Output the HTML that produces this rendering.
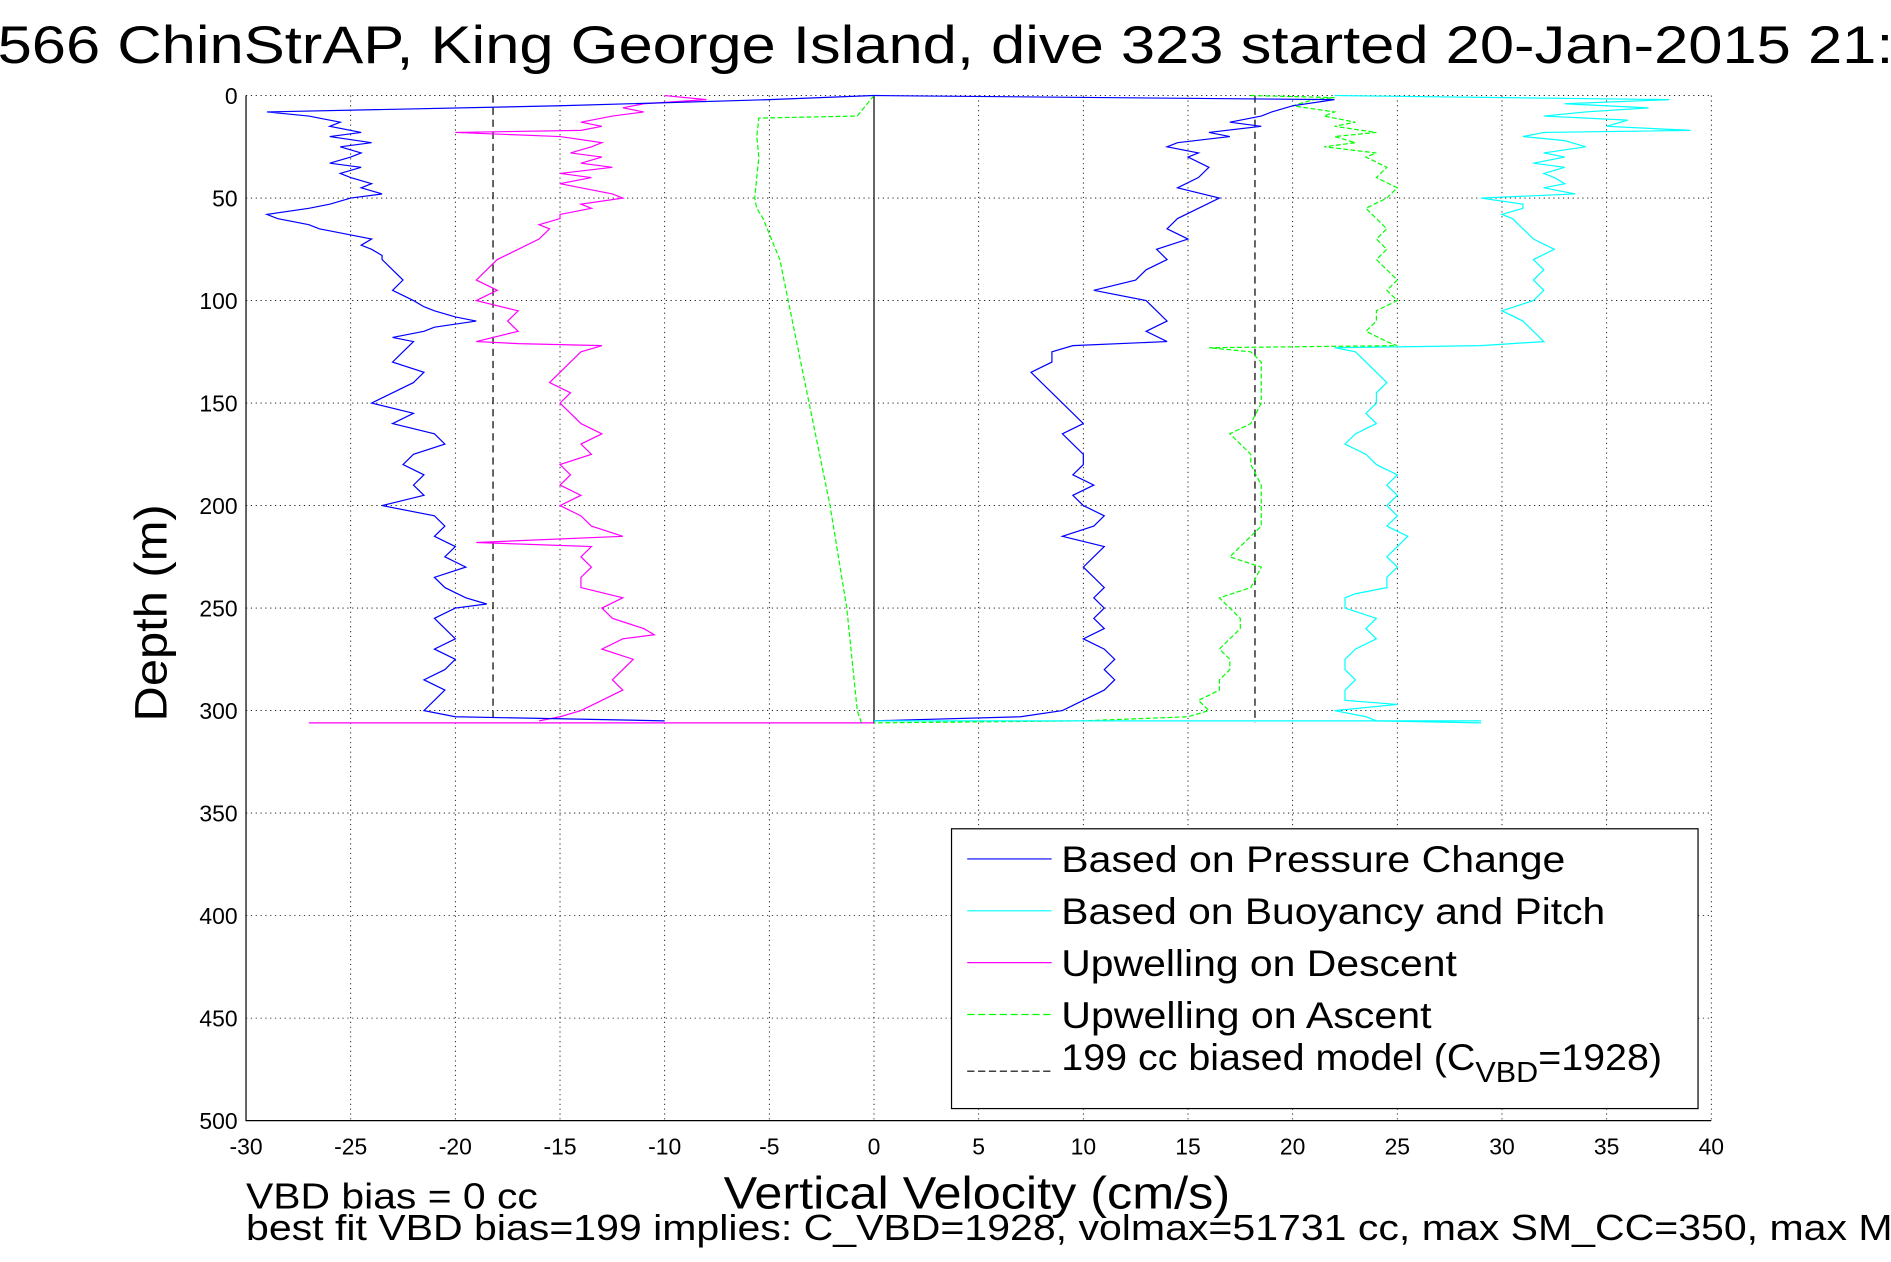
<!DOCTYPE html>
<html><head><meta charset="utf-8"><style>
html,body{margin:0;padding:0;background:#fff;overflow:hidden;}
svg{display:block;font-family:"Liberation Sans",sans-serif;}
</style></head><body>
<svg id="chart" width="1891" height="1262" viewBox="0 0 1568 1046" xmlns="http://www.w3.org/2000/svg">
<text x="-2" y="52" font-size="44" textLength="1572" lengthAdjust="spacingAndGlyphs">566 ChinStrAP, King George Island, dive 323 started 20-Jan-2015 21:</text>
<g id="grid"></g>
<g id="axes"></g>
<g id="series"></g>
<text transform="translate(138,508) rotate(-90)" text-anchor="middle" font-size="38" textLength="180" lengthAdjust="spacingAndGlyphs">Depth (m)</text>
<text x="600" y="1002" font-size="38" textLength="420" lengthAdjust="spacingAndGlyphs">Vertical Velocity (cm/s)</text>
<text x="204" y="1002" font-size="30" textLength="242" lengthAdjust="spacingAndGlyphs">VBD bias = 0 cc</text>
<text x="204" y="1028" font-size="30" textLength="1388" lengthAdjust="spacingAndGlyphs">best fit VBD bias=199 implies: C_VBD=1928, volmax=51731 cc, max SM_CC=350, max MA</text>
<g id="legend">
<rect x="789" y="687" width="619" height="232" fill="#fff" stroke="#000" stroke-width="1"/>
<line x1="802" y1="712" x2="872" y2="712" stroke="#0000ff"/>
<text x="880" y="723" font-size="31" textLength="418" lengthAdjust="spacingAndGlyphs">Based on Pressure Change</text>
<line x1="802" y1="755" x2="872" y2="755" stroke="#00ffff"/>
<text x="880" y="766" font-size="31" textLength="451" lengthAdjust="spacingAndGlyphs">Based on Buoyancy and Pitch</text>
<line x1="802" y1="798" x2="872" y2="798" stroke="#ff00ff"/>
<text x="880" y="809" font-size="31" textLength="328" lengthAdjust="spacingAndGlyphs">Upwelling on Descent</text>
<line x1="802" y1="841" x2="872" y2="841" stroke="#00ff00" stroke-dasharray="6,3"/>
<text x="880" y="852" font-size="31" textLength="307" lengthAdjust="spacingAndGlyphs">Upwelling on Ascent</text>
<line x1="802" y1="888" x2="872" y2="888" stroke="#000" stroke-dasharray="6,3"/>
<text x="880" y="887" font-size="31" transform="translate(880,0) scale(1.055,1) translate(-880,0)">199 cc biased model (C<tspan font-size="24" dy="10">VBD</tspan><tspan dy="-10">=1928)</tspan></text>
</g>
</svg>
<script>
const xTicks=[-30,-25,-20,-15,-10,-5,0,5,10,15,20,25,30,35,40];
const yTicks=[0,50,100,150,200,250,300,350,400,450,500];
const blueDescDepth=[0,2,5,8,10,13,15,18,20,23,25,28,30,33,35,38,40,43,45,48,50,53,55,58,60,63,65,68,70,73,75,78,80,85,90,95,100,103,105,108,110,113,115,118,120,125,130,135,140,145,150,155,160,165,170,175,180,185,190,195,200,205,210,215,220,225,230,235,240,245,248,250,255,260,265,270,275,280,285,290,295,300,303,305];
const blueDescVal=[0,-5,-15,-29,-27,-25.5,-26,-24.5,-26,-24,-25.5,-24.5,-25,-26,-24.5,-25.5,-25,-24,-24.5,-23.5,-25,-26,-27,-29,-28.5,-27,-26.5,-25,-24,-24.5,-24,-23.5,-23.5,-23,-22.5,-23,-22,-21.5,-21,-20,-19,-21,-21.5,-23,-22,-22.5,-23,-21.5,-22,-23,-24,-22,-23,-21,-20.5,-22,-22.5,-21.5,-22,-21.5,-23.5,-21,-20.5,-21,-20,-20.5,-19.5,-21,-20.5,-19.5,-18.5,-20,-21,-20.5,-20,-21,-20,-20.5,-21.5,-20.5,-21,-21.5,-20,-10];
const blueAscDepth=[0,2,5,8,10,13,15,18,20,23,25,28,30,35,40,45,50,55,60,65,70,75,80,85,90,95,100,105,110,115,120,122,125,130,135,140,145,150,155,160,165,170,175,180,185,190,195,200,205,210,215,220,225,230,235,240,245,250,255,260,265,270,275,280,285,290,295,300,303,305];
const blueAscVal=[0,22,20,19,18.5,17,18.5,16,17,14.5,14,15.5,15,16,15.5,14.5,16.5,15.5,14.5,14,15,13.5,14,13,12.5,10.5,13,13.5,14,13,14,9.5,8.5,8.5,7.5,8,8.5,9,9.5,10,9,9.5,10,10,9.5,10.5,9.5,10,11,10.5,9,11,10.5,10,10.5,11,10.5,11,10.5,11,10,11,11.5,11,11.5,11,10,9,7,0];
const cyanDepth=[0,2,4,6,8,10,12,15,17,18,20,22,25,28,30,33,35,38,40,43,45,48,50,53,55,58,60,65,70,75,80,85,90,95,100,105,110,115,120,122,123,125,130,135,140,145,150,155,160,165,170,175,180,185,190,195,200,205,210,215,220,225,230,235,240,243,245,250,255,260,265,270,275,280,285,290,295,297,300,303,305,306];
const cyanVal=[22,38,33,37,34,32,36,35,39,32,31,33,34,32,33,31.5,33,32,32.5,33,32,33.5,29,31,31,30,30.5,31,31.5,32.5,31.5,32,31.5,32,31.5,30,31,31.5,32,29,22,23,23.5,24,24.5,24,24,23.5,24,23,22.5,23.5,24,25,24.5,25,24.5,25,24.5,25.5,25,24.5,25,24.5,24.5,23,22.5,22.5,24,23.5,24,23,22.5,22.5,23,22.5,22.5,25,22,23.5,24,29];
const magDepth=[0,2,4,6,8,10,13,15,17,18,20,23,25,28,30,33,35,38,40,43,45,48,50,53,55,58,60,63,65,70,75,80,85,90,95,100,105,110,115,120,121,122,125,130,135,140,145,150,155,160,165,170,175,180,185,190,195,200,205,210,215,218,220,225,230,235,240,245,250,255,260,263,265,270,275,280,285,290,295,300,303,305];
const magVal=[-10,-8,-11,-12,-11,-12.5,-14,-13,-14,-20,-15,-13,-13.5,-14.5,-13,-14,-12.5,-15,-13.5,-15,-14,-12.5,-12,-14,-13.5,-15,-15,-16,-15.5,-16,-17,-18,-18.5,-19,-18,-19,-17,-17.5,-17,-19,-17,-13,-14,-14.5,-15,-15.5,-14.5,-15,-14.5,-14,-13,-14,-13.5,-15,-14.5,-15,-14,-15,-14,-13.5,-12,-19,-13.5,-14,-13.5,-14,-14,-12,-13,-12.5,-11,-10.5,-12,-13,-11.5,-12,-12.5,-12,-13,-14,-15,-16];
const greenAscDepth=[0,1,2,5,8,10,13,15,18,20,23,25,28,30,35,40,45,50,55,60,65,70,75,80,85,90,95,100,105,110,115,120,122,123,125,130,140,150,160,165,170,175,180,190,200,210,215,220,225,230,240,245,250,255,260,265,270,275,280,285,290,295,300,303,305,306];
const greenAscVal=[18,22,21,20,22,21.5,23,22,24,22,23,21.5,24,23.5,24.5,24,25,24.5,23.5,24,24.5,24,24.5,24,24.5,25,24.5,25,24,24,23.5,24.5,25,16,18,18.5,18.5,18.5,18,17,17.5,18,18,18.5,18.5,18.5,18,17.5,17,18.5,18,16.5,17,17.5,17.5,17,16.5,17,17,16.5,16.5,15.5,16,15,10,0];
const modelDepth=[0,10,11,20,30,40,50,55,60,70,80,100,150,200,250,300,306];
const modelVal=[0,-0.8,-5.5,-5.6,-5.5,-5.6,-5.7,-5.6,-5.3,-4.9,-4.5,-4.1,-3.1,-2.1,-1.3,-0.8,-0.6];
const biasLines=[-18.2,18.2];

const L=204,R=1419,T=79,B=929,NS="http://www.w3.org/2000/svg";
const xs=v=>L+(v+30)/70*(R-L);
const ys=d=>T+d/500*(B-T);
function mk(tag,attrs,parent){const e=document.createElementNS(NS,tag);for(const k in attrs)e.setAttribute(k,attrs[k]);parent.appendChild(e);return e;}
const grid=document.getElementById('grid'),axes=document.getElementById('axes'),series=document.getElementById('series');
xTicks.forEach(t=>{
  const g=mk('line',{x1:xs(t),x2:xs(t),y1:T,y2:B,stroke:'#000','stroke-width':0.7,'stroke-dasharray':'1,3'},grid);
  
  
  const tk=mk('text',{x:xs(t),y:B+28,'text-anchor':'middle','font-size':19},axes);
  tk.textContent=t;
  
  
});
yTicks.forEach(t=>{
  const g=mk('line',{x1:L,x2:R,y1:ys(t),y2:ys(t),stroke:'#000','stroke-width':0.7,'stroke-dasharray':'1,3'},grid);
  
  
  const tk=mk('text',{x:L-7,y:ys(t)+7,'text-anchor':'end','font-size':19},axes);
  tk.textContent=t;
  
  
});
const fr=mk('path',{d:`M${L},${T}V${B}H${R}`,fill:'none',stroke:'#000','stroke-width':1},axes);


const z=mk('line',{x1:xs(0),x2:xs(0),y1:T,y2:ys(306),stroke:'#000','stroke-width':1},series);


biasLines.forEach(v=>{
  const l=mk('line',{x1:xs(v),x2:xs(v),y1:ys(0),y2:ys(306),stroke:'#000','stroke-width':1,'stroke-dasharray':'6,4'},series);
  
  
});
function line(d,v,color,name,dash){
  const p=mk('polyline',{points:d.map((dd,i)=>xs(v[i])+','+ys(dd)).join(' '),fill:'none',stroke:color,'stroke-width':1},series);
  if(dash)p.setAttribute('stroke-dasharray',dash);
  
  
}
line(modelDepth,modelVal,'#00ff00','model-descent-line','4,2');
line(magDepth,magVal,'#ff00ff','upwelling-descent-line');
line(greenAscDepth,greenAscVal,'#00ff00','upwelling-ascent-line','4,2');
line(cyanDepth,cyanVal,'#00ffff','buoyancy-line');
line(blueDescDepth,blueDescVal,'#0000ff','pressure-descent-line');
line(blueAscDepth,blueAscVal,'#0000ff','pressure-ascent-line');
const sp=mk('line',{x1:xs(-27),x2:xs(0),y1:ys(306),y2:ys(306),stroke:'#ff00ff','stroke-width':1},series);


const sp2=mk('line',{x1:xs(0),x2:xs(29),y1:ys(305),y2:ys(305),stroke:'#00ffff','stroke-width':1},series);


</script>
</body></html>
